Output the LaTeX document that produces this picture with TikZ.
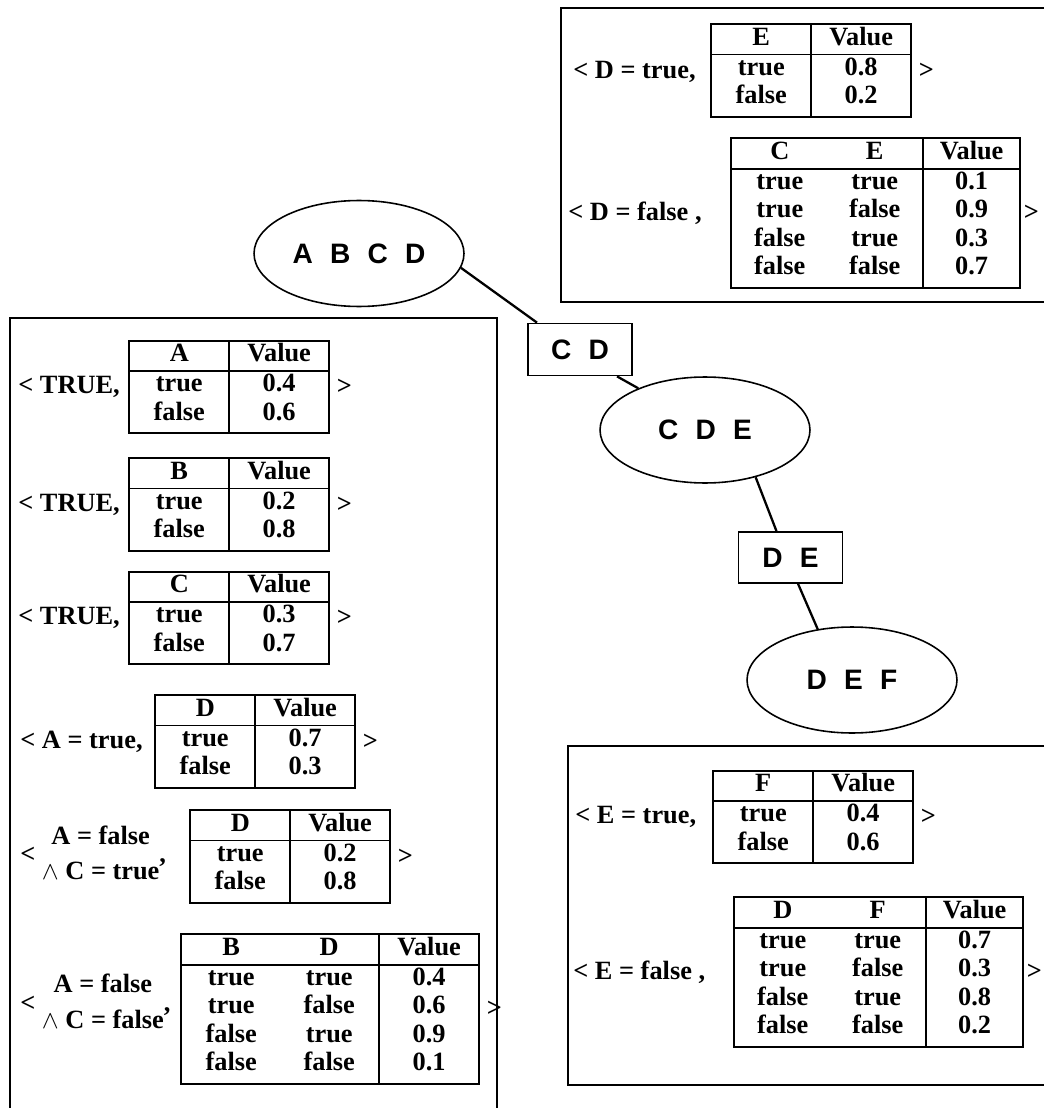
\documentclass[tikz,border=0pt]{standalone}
\usepackage{fontspec}
\usepackage{array}
\setmainfont{Liberation Serif}
\newfontfamily\treefont{Liberation Sans}[WordSpace=2.2]
\usetikzlibrary{shapes.geometric,positioning}
\newcolumntype{V}{>{\centering\arraybackslash}p{1.96cm}}
\newcolumntype{W}{>{\centering\arraybackslash}p{1.9cm}}
\setlength{\arrayrulewidth}{1.1pt}
\setlength{\tabcolsep}{0pt}
\newcommand{\cptfont}{\fontsize{15}{16.2}\selectfont\bfseries}
\newcommand{\cliquefont}{\treefont\fontsize{16}{18}\selectfont\bfseries}

\begin{document}
\begin{tikzpicture}[
      x=0.02cm, y=-0.02cm,
      clique/.style={ellipse, draw, line width=0.9pt, fill=white,
                     minimum width=4.2cm, minimum height=2.12cm,
                     inner sep=0pt, font=\cliquefont},
      sepset/.style={rectangle, draw, line width=1pt, fill=white,
                     minimum width=2.08cm, minimum height=1.04cm,
                     inner sep=0pt, font=\cliquefont},
      link/.style={line width=1.3pt},
      panel/.style={line width=1.2pt},
      cpt/.style={inner sep=0pt, anchor=west, font=\cptfont},
      ctx/.style={inner sep=0pt, anchor=west, font=\cptfont}
    ]
      \useasboundingbox (0,0) rectangle (1044,1108);
      %% junction tree
      \node[clique] (abcd) at (359,253.5) {A B C D};
      \node[sepset] (cd)   at (580,349.5) {C D};
      \node[clique] (cde)  at (705,430)   {C D E};
      \node[sepset, minimum height=1.02cm] (de) at (790.5,557.5) {D E};
      \node[clique] (def)  at (852,680)   {D E F};
      \draw[link] (abcd.-8) -- (cd.148);
      \draw[link] (cd.-36)  -- (cde.148);
      \draw[link] (cde.-43) -- (de.118);
      \draw[link] (de.-74)  -- (def.124);
      %% panels
      \draw[panel] (10,1108) |- (497,318) -- (497,1108);
      \draw[panel] (1044,8) -| (561,302) -- (1044,302);
      \draw[panel] (1044,746) -| (568,1085) -- (1044,1085);
      %% clique ABCD
      \node[cpt] (cpta) at (128,387) {\begin{tabular}{|V|V|}\hline
          A & Value\\\hline true & 0.4\\ false & 0.6\\[2pt]\hline\end{tabular}};
      \node[ctx] (ctxa) at (18,387) {< TRUE,};
      \node[ctx, right=0.12cm of cpta] (enda) {>};
      \node[cpt] (cptb) at (128,504.5) {\begin{tabular}{|V|V|}\hline
          B & Value\\\hline true & 0.2\\ false & 0.8\\[2pt]\hline\end{tabular}};
      \node[ctx] (ctxb) at (18,504.5) {< TRUE,};
      \node[ctx, right=0.12cm of cptb] (endb) {>};
      \node[cpt] (cptc) at (128,618) {\begin{tabular}{|V|V|}\hline
          C & Value\\\hline true & 0.3\\ false & 0.7\\[2pt]\hline\end{tabular}};
      \node[ctx] (ctxc) at (18,618) {< TRUE,};
      \node[ctx, right=0.12cm of cptc] (endc) {>};
      \node[cpt] (cptd) at (154,741.5) {\begin{tabular}{|V|V|}\hline
          D & Value\\\hline true & 0.7\\ false & 0.3\\[2pt]\hline\end{tabular}};
      \node[ctx] (ctxd) at (20,741.5) {< A = true,};
      \node[ctx, right=0.12cm of cptd] (endd) {>};
      \node[cpt] (cpte) at (189,856.5) {\begin{tabular}{|V|V|}\hline
          D & Value\\\hline true & 0.2\\ false & 0.8\\[2pt]\hline\end{tabular}};
      \node[ctx] (ctxe) at (20,856.5) {<~\begin{tabular}{c}A = false\\[4pt]
          $\wedge$ C = true\end{tabular},};
      \node[ctx, right=0.12cm of cpte] (ende) {>};
      \node[cpt] (cptf) at (180,1009) {\begin{tabular}{|VV|V|}\hline
          B & D & Value\\\hline true & true & 0.4\\ true & false & 0.6\\
          false & true & 0.9\\ false & false & 0.1\\[2pt]\hline\end{tabular}};
      \node[ctx] (ctxf) at (20,1005) {<~\begin{tabular}{c}A = false\\[4pt]
          $\wedge$ C = false\end{tabular},};
      \node[ctx, right=0.12cm of cptf] (endf) {>};
      %% clique CDE
      \node[cpt] (cptg) at (710,70.5) {\begin{tabular}{|V|V|}\hline
          E & Value\\\hline true & 0.8\\ false & 0.2\\[2pt]\hline\end{tabular}};
      \node[ctx] (ctxg) at (573,72) {< D = true,};
      \node[ctx, right=0.12cm of cptg] (endg) {>};
      \node[cpt] (cpth) at (730,213) {\begin{tabular}{|WW|W|}\hline
          C & E & Value\\\hline true & true & 0.1\\ true & false & 0.9\\
          false & true & 0.3\\ false & false & 0.7\\[2pt]\hline\end{tabular}};
      \node[ctx] (ctxh) at (568,213) {< D = false ,};
      \node[ctx, right=0.04cm of cpth] (endh) {>};
      %% clique DEF
      \node[cpt] (cpti) at (712,817) {\begin{tabular}{|V|V|}\hline
          F & Value\\\hline true & 0.4\\ false & 0.6\\[2pt]\hline\end{tabular}};
      \node[ctx] (ctxi) at (575,817) {< E = true,};
      \node[ctx, right=0.12cm of cpti] (endi) {>};
      \node[cpt] (cptj) at (733,972) {\begin{tabular}{|WW|W|}\hline
          D & F & Value\\\hline true & true & 0.7\\ true & false & 0.3\\
          false & true & 0.8\\ false & false & 0.2\\[2pt]\hline\end{tabular}};
      \node[ctx] (ctxj) at (573,972) {< E = false ,};
      \node[ctx, right=0.04cm of cptj] (endj) {>};
    \end{tikzpicture}
\end{document}
